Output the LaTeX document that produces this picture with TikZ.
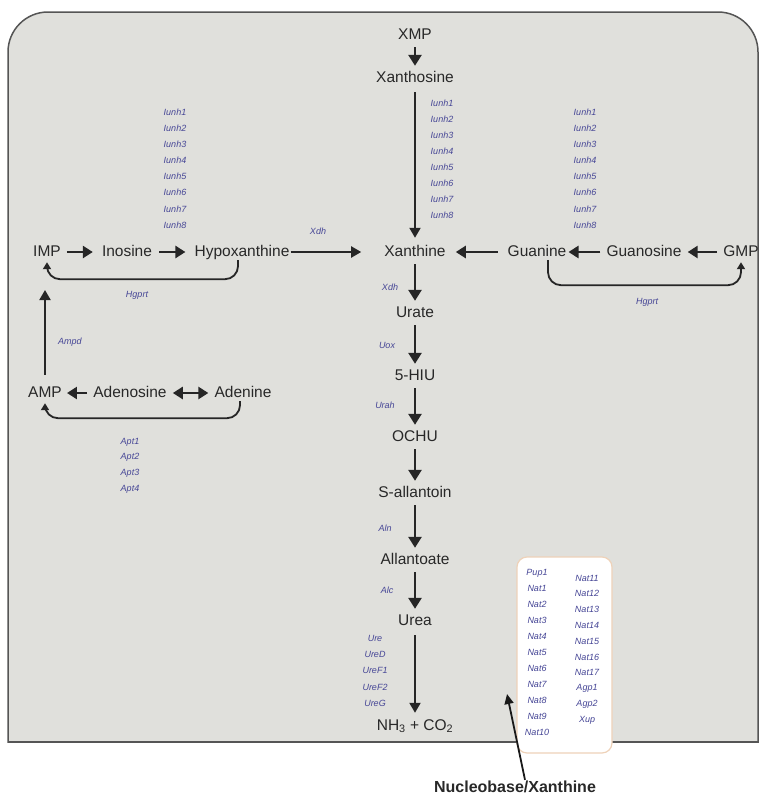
\documentclass[tikz,border=0pt]{standalone}
\usepackage{fontspec}
\setmainfont{Liberation Sans}
\usetikzlibrary{arrows.meta}
\definecolor{bgc}{RGB}{224,224,220}
\definecolor{edgec}{RGB}{85,85,85}
\definecolor{enzc}{RGB}{70,70,150}
\definecolor{txtc}{RGB}{40,40,40}
\definecolor{boxc}{RGB}{238,210,185}
\begin{document}
\begin{tikzpicture}[x=1pt,y=-1pt,
  met/.style={font=\fontsize{15.5}{17}\selectfont, text=txtc, inner sep=1pt, text height=11pt, text depth=3pt},
  enz/.style={font=\fontsize{9}{10}\selectfont\itshape, text=enzc, inner sep=0pt},
  rxn/.style={line width=2.6pt, draw=black!85, -{Triangle[length=11pt,width=13pt]}, shorten <=4pt, shorten >=4pt},
  hrxn/.style={line width=2.6pt, draw=black!85, -{Triangle[length=10pt,width=12pt]}},
  lrxn/.style={line width=2pt, draw=black!85, -{Triangle[length=10pt,width=11pt]}},
  loopar/.style={line width=1.8pt, draw=black!85, rounded corners=13pt, -{Triangle[length=7pt,width=8pt]}},
  nbarrow/.style={line width=1.8pt, draw=black!90, -{Triangle[length=10pt,width=9pt]}}]
\useasboundingbox (0,0) rectangle (761,795);
% background panel
\begin{scope}
\clip (0,0) rectangle (761,742.8);
\draw[fill=bgc, draw=edgec, line width=1.5pt, rounded corners=40pt] (8,12) rectangle (758,790);
\end{scope}
\draw[edgec, line width=1.5pt] (8,742) -- (758,742);
% transporter box
\node[draw=boxc, line width=1.2pt, fill=white, rounded corners=10pt, minimum width=95pt, minimum height=196pt, inner sep=0pt] (tbox) at (564.5,655) {};

% metabolites
\node[met] (xmp) at (415,35) {XMP};
\node[met] (xsine) at (415,78) {Xanthosine};
\node[met] (imp) at (47,252) {IMP};
\node[met] (inosine) at (127,252) {Inosine};
\node[met] (hypox) at (242,252) {Hypoxanthine};
\node[met] (xan) at (415,252) {Xanthine};
\node[met] (guanine) at (537,252) {Guanine};
\node[met] (guanosine) at (644,252) {Guanosine};
\node[met] (gmp) at (741,252) {GMP};
\node[met] (urate) at (415,313) {Urate};
\node[met] (hiu) at (415,376) {5-HIU};
\node[met] (ochu) at (415,437) {OCHU};
\node[met] (sall) at (415,493) {S-allantoin};
\node[met] (allan) at (415,560) {Allantoate};
\node[met] (urea) at (415,621) {Urea};
\node[met] (nh3) at (415,726) {NH\textsubscript{3} + CO\textsubscript{2}};
\node[met] (amp) at (45,393) {AMP};
\node[met] (adenosine) at (130,393) {Adenosine};
\node[met] (adenine) at (243,393) {Adenine};
\node[font=\fontsize{16}{18}\selectfont\bfseries, text=txtc, inner sep=1pt] (nucleo) at (515,787) {Nucleobase/Xanthine};

% enzyme labels
\foreach \i in {1,...,8} {
  \node[enz] (iL\i) at (175,{112+16.15*(\i-1)}) {Iunh\i};
  \node[enz] (iM\i) at (442,{103+16*(\i-1)}) {Iunh\i};
  \node[enz] (iR\i) at (585,{112+16.15*(\i-1)}) {Iunh\i};
}
\node[enz] (xdh1) at (318,231) {Xdh};
\node[enz] (xdh2) at (390,287) {Xdh};
\node[enz] (uox) at (387,345) {Uox};
\node[enz] (urah) at (385,405) {Urah};
\node[enz] (aln) at (385,528) {Aln};
\node[enz] (alc) at (387,590) {Alc};
\node[enz] (hgL) at (137,295) {Hgprt};
\node[enz] (hgR) at (647,302) {Hgprt};
\node[enz] (ampd) at (70,342) {Ampd};
\foreach \n [count=\k] in {Apt1,Apt2,Apt3,Apt4}
  \node[enz] (apt\k) at (130,{442+15.7*(\k-1)}) {\n};
\foreach \n [count=\k] in {Ure,UreD,UreF1,UreF2,UreG}
  \node[enz] (ure\k) at (375,{638+16.3*(\k-1)}) {\n};
\foreach \n [count=\k] in {Pup1,Nat1,Nat2,Nat3,Nat4,Nat5,Nat6,Nat7,Nat8,Nat9,Nat10}
  \node[enz] (tl\k) at (537,{573+15.9*(\k-1)}) {\n};
\foreach \n [count=\k] in {Nat11,Nat12,Nat13,Nat14,Nat15,Nat16,Nat17,Agp1,Agp2,Xup}
  \node[enz] (tr\k) at (587,{578+15.8*(\k-1)}) {\n};

% vertical reactions
\draw[rxn] (xmp) -- (xsine);
\draw[lrxn, shorten <=6pt, shorten >=6pt] (xsine) -- (xan);
\draw[rxn] (xan) -- (urate);
\draw[rxn] (urate) -- (hiu);
\draw[rxn] (hiu) -- (ochu);
\draw[rxn] (ochu) -- (sall);
\draw[rxn] (sall) -- (allan);
\draw[rxn] (allan) -- (urea);
\draw[lrxn, shorten <=6pt, shorten >=5pt] (urea) -- (nh3);

% horizontal reactions
\draw[hrxn, shorten <=5pt, shorten >=8pt] (imp) -- (inosine);
\draw[hrxn, shorten <=6pt, shorten >=8pt] (inosine) -- (hypox);
\draw[lrxn, shorten <=0pt, shorten >=22pt] (hypox) -- (xan);
\draw[hrxn, shorten <=9pt, shorten >=9pt] (guanine) -- (xan);
\draw[hrxn, shorten <=5pt, shorten >=1pt] (guanosine) -- (guanine);
\draw[hrxn, shorten <=5pt, shorten >=5pt] (gmp) -- (guanosine);
\draw[hrxn, shorten <=5pt, shorten >=4pt] (adenosine) -- (amp);
\draw[line width=2.6pt, draw=black!85, {Triangle[length=10pt,width=12pt]}-{Triangle[length=10pt,width=12pt]}, shorten <=5pt, shorten >=5pt] (adenosine) -- (adenine);

% salvage loops
\draw[loopar, shorten >=2pt] ([xshift=-4pt]hypox.south) -- ++(0,19) -| (imp.south);
\draw[loopar, shorten >=2pt] ([xshift=11pt]guanine.south) -- ++(0,25) -| (gmp.south);
\draw[loopar, shorten >=2pt] ([xshift=-3pt]adenine.south) -- ++(0,17) -| (amp.south);
\coordinate (amptip) at (45,290);
\draw[lrxn, shorten <=10pt] (amp.north) -- (amptip);

% nucleobase arrow
\coordinate (nbtip) at (507,694);
\draw[nbarrow] ([xshift=10pt]nucleo.north) -- (nbtip);
\end{tikzpicture}
\end{document}
